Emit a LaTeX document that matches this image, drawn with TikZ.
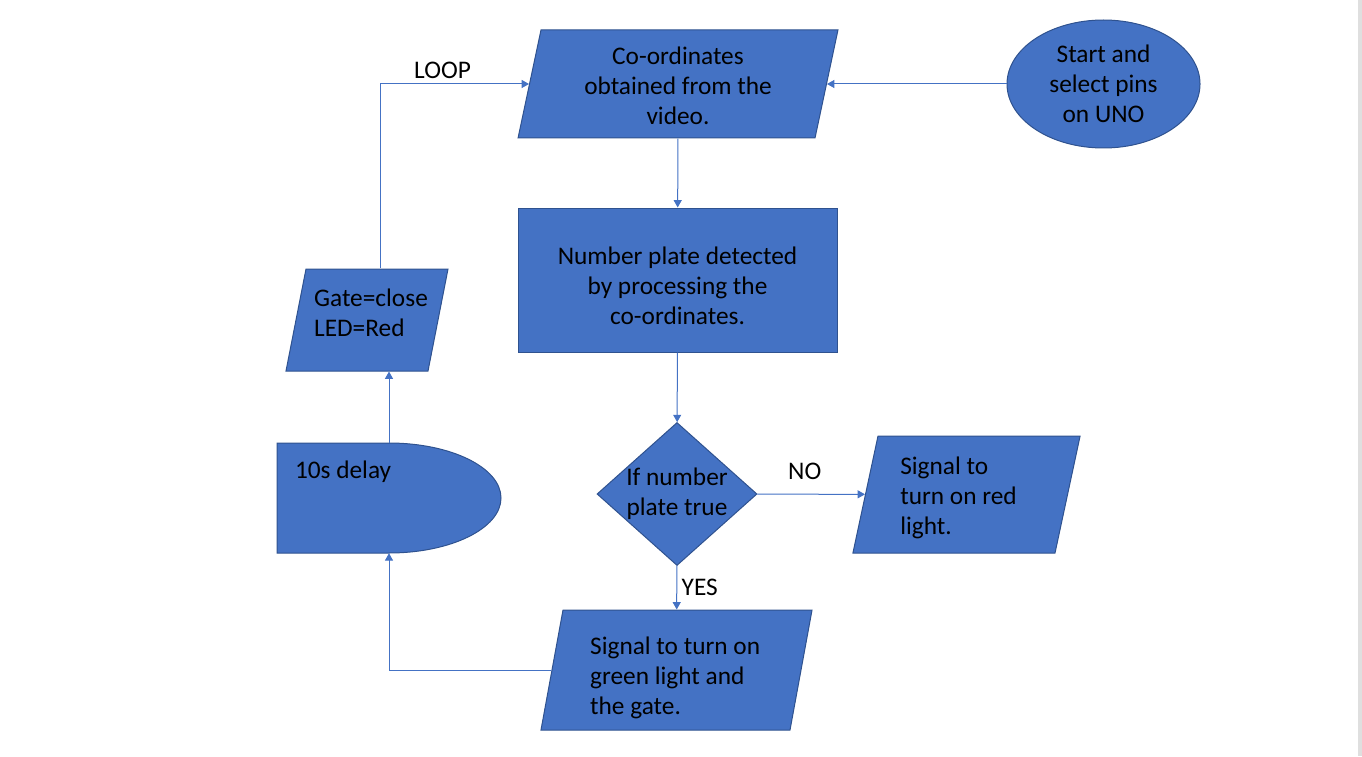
\documentclass[tikz,border=0pt]{standalone}
\usepackage{fontspec}
\setmainfont{Carlito}
\usetikzlibrary{shapes.geometric, arrows.meta, positioning}
\definecolor{boxblue}{HTML}{4472C4}
\definecolor{edgeblue}{HTML}{2F528F}

\begin{document}
\begin{tikzpicture}[x=0.75pt, y=-0.75pt,
  font=\fontsize{19}{22.5}\selectfont,
  block/.style={draw=edgeblue, fill=boxblue, line width=0.75pt, inner sep=0pt},
  io/.style={block, trapezium},
  flow/.style={draw=boxblue, line width=0.75pt, -{Triangle[length=5.5pt, width=6pt]}}]

\useasboundingbox (0,0) rectangle (1362,756);
\fill[gray!25] (1358,0) rectangle (1362,756);

% Draw top row
\node[io, trapezium left angle=78, trapezium right angle=102, text width=205.5pt, text height=40.5pt, text depth=40.5pt, label={[align=center, yshift=-1pt]center:Co-ordinates\\obtained from the\\video.}] (coords) at (678,84) {};
\node[block, ellipse, minimum width=144.75pt, minimum height=96pt, align=center] (start) at (1103.5,84) {Start and\\select pins\\on UNO};

% Draw detection and test
\node[block, rectangle, minimum width=239.25pt, minimum height=108pt, label={[align=center, yshift=-4.1pt]center:Number plate detected\\by processing the\\co-ordinates.}] (detect) at (677.5,280) {};
\node[block, diamond, minimum width=120pt, minimum height=107.25pt, label={[align=center]center:If number\\plate true}] (test) at (677,494) {};

% Draw signals
\node[io, trapezium left angle=77.9, trapezium right angle=102.1, text width=132.75pt, text height=43.875pt, text depth=43.875pt, label={[align=left, xshift=-6pt, yshift=-2.6pt]center:Signal to\\turn on red\\light.}] (redsig) at (966.5,494.5) {};
\node[io, trapezium left angle=79.6, trapezium right angle=100.4, text width=170.25pt, text height=45pt, text depth=45pt, label={[align=left, xshift=-1pt, yshift=-5.6pt]center:Signal to turn on\\green light and\\the gate.}] (greensig) at (676.5,670) {};
\node[io, trapezium left angle=78.9, trapezium right angle=101.1, text width=91.5pt, text height=38.25pt, text depth=38.25pt, label={[align=left, xshift=3pt, yshift=5.25pt]center:Gate=close\\LED=Red}] (gate) at (367,320) {};

% Draw delay shape
\draw[block] (277,553) -- (277,443) -- (389,443) arc[start angle=90, end angle=-90, x radius=84pt, y radius=41.25pt] -- cycle;
\node[minimum width=168pt, minimum height=82.5pt, inner sep=0pt, label={[anchor=west, inner sep=0pt, xshift=13.5pt, yshift=-21.75pt]north west:10s delay}] (delay) at (389,498) {};

% Draw arrows
\draw[flow] (start) -- (coords);
\draw[flow] (coords) -- (detect);
\draw[flow] (detect) -- (test);
\draw[flow] (test) -- node[above=7pt, pos=0.44] (no) {NO} (redsig);
\draw[flow] (test) -- node[right] (yes) {YES} (greensig);
\draw[flow] (greensig) -| (delay.south);
\draw[flow] (delay.north) -- (delay.north |- gate.south);
\draw[flow] ([xshift=9.75pt]gate.north) |- node[pos=0.71, above] (loop) {LOOP} (coords.west);

\end{tikzpicture}
\end{document}
